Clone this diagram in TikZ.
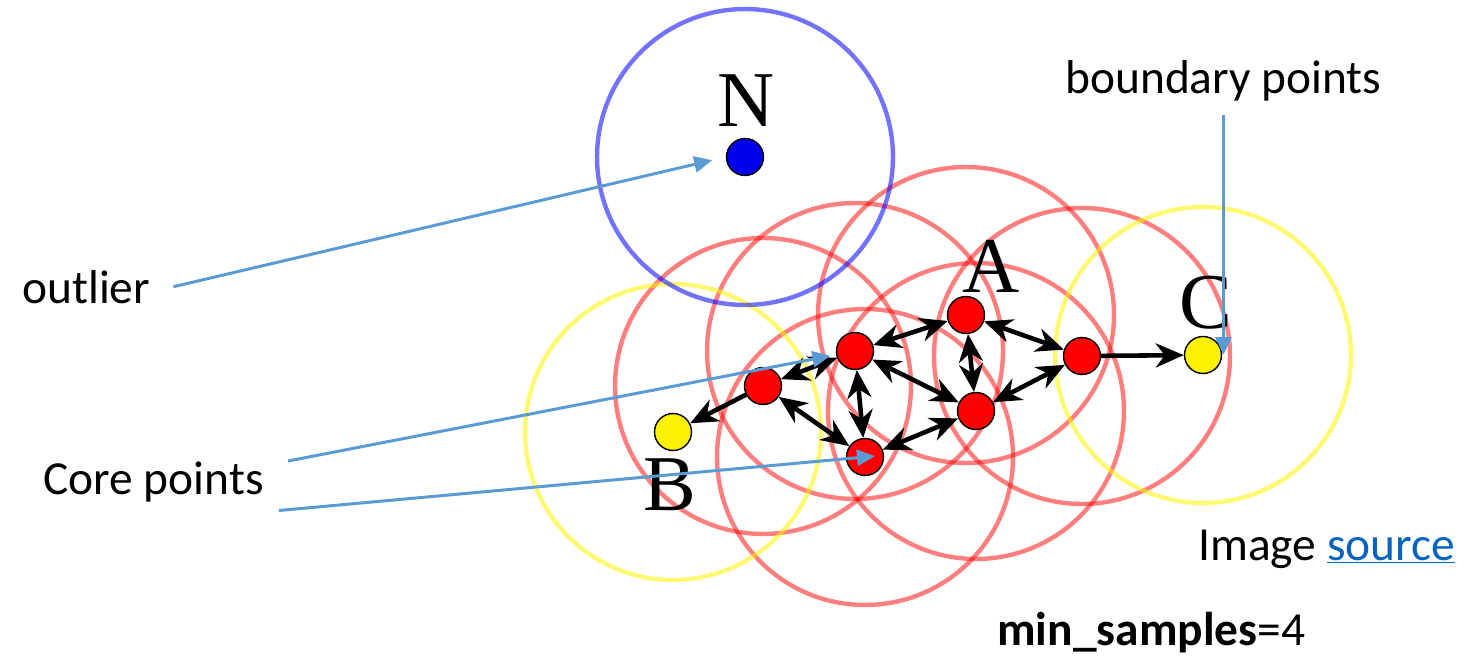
\documentclass[tikz,border=0pt]{standalone}
\usepackage{fontspec}
\setmainfont{Carlito}
\newfontfamily\labfont{Liberation Serif}
\usetikzlibrary{arrows.meta, backgrounds}
\definecolor{noteblue}{HTML}{5B9BD5}
\definecolor{linkblue}{HTML}{0563C1}
\tikzset{bigtip/.tip={Stealth[length=0.56cm, width=0.48cm, inset=0.18cm]}}

\begin{document}
\begin{tikzpicture}[
    x=0.02cm, y=-0.02cm,
    corenode/.style={circle, draw=black, line width=0.8pt, fill=red, minimum size=0.74cm, inner sep=0pt},
    bordernode/.style={corenode, fill=yellow},
    noisenode/.style={corenode, fill=blue!93!black},
    letter/.style={font=\labfont\fontsize{45}{52}\selectfont, inner sep=0pt, anchor=base},
    note/.style={font=\fontsize{27}{32}\selectfont, inner sep=0pt, anchor=base west},
    reach/.style={line width=2.6pt, bigtip-bigtip},
    oneway/.style={line width=2.6pt, -bigtip},
    pointer/.style={noteblue, line width=1.7pt, -{Triangle[length=0.36cm, width=0.32cm]}},
    epsred/.style={red, draw opacity=0.5, line width=2.5pt},
    epsyellow/.style={yellow, draw opacity=0.55, line width=2.5pt},
    epsblue/.style={blue, draw opacity=0.55, line width=2.5pt}
]
\useasboundingbox (0,0) rectangle (1472,656);

% Core points
\foreach \i/\x/\y in {1/763/386, 2/855/351, 3/966/315, 4/865/457, 5/976/411, 6/1082/356}
    \node[corenode] (K\i) at (\x,\y) {};

% Border points and noise point
\node[bordernode] (pB) at (673,432) {};
\node[bordernode] (pC) at (1203,355) {};
\node[noisenode] (pN) at (745,157) {};

% Letters
\node[letter] (labN) at (746,126) {N};
\node[letter] (labA) at (991,292) {A};
\node[letter] (labB) at (670,510) {B};
\node[letter] (labC) at (1206,328) {C};

% Eps neighbourhoods
\begin{scope}[on background layer]
\foreach \i in {1,...,6}
    \draw[epsred] (K\i.center) circle[radius=2.96cm];
\draw[epsyellow] (pB.center) circle[radius=2.96cm];
\draw[epsyellow] (pC.center) circle[radius=2.96cm];
\draw[epsblue] (pN.center) circle[radius=2.96cm];
\end{scope}

% Density reachability
\foreach \a/\b in {1/2, 1/4, 2/3, 2/4, 2/5, 3/5, 3/6, 4/5, 5/6}
    \draw[reach] (K\a) -- (K\b);
\draw[oneway] (K1) -- (pB);
\draw[oneway] (K6) -- (pC);

% Notes
\node[note] (outlier) at (22,303) {outlier};
\node[note] (core) at (43,494) {Core points};
\node[note] (boundary) at (1065,93) {boundary points};
\node[note] (source) at (1198,560) {Image \textcolor{linkblue}{\underline{source}}};
\node[note] (minpts) at (997,645) {\textbf{min\_samples}=4};

% Pointers
\draw[pointer, shorten >=0.28cm] ([xshift=0.46cm]outlier.east) -- (pN.west);
\draw[pointer, shorten >=0.5cm] ([xshift=0.48cm]core.north east) -- (K2.center);
\draw[pointer, shorten >=-0.2cm] ([xshift=0.3cm, yshift=-0.17cm]core.south east) -- (K4.center);
\draw[pointer] ([yshift=-0.29cm]boundary.south) -- (boundary.south |- pC.east);

\end{tikzpicture}
\end{document}
